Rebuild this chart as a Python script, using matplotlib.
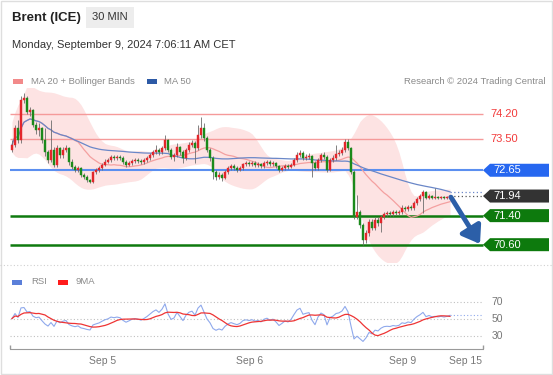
import matplotlib.pyplot as plt
import numpy as np
import pandas as pd
from matplotlib.patches import Polygon, Rectangle

plt.rcParams['font.family'] = ['Liberation Sans', 'DejaVu Sans']

W, H = 553, 375

# Brent 30 min candles, Sep 4 -> Sep 9
first_open = 73.21
closes = [
    73.35, 73.81, 73.48, 74.59, 74.64, 74.26, 74.31, 73.90, 73.76, 73.81,
    73.48, 73.15, 72.93, 73.21, 72.80, 73.26, 73.07, 73.21, 73.26, 72.88,
    72.74, 72.66, 72.71, 72.52, 72.46, 72.38, 72.33, 72.60, 72.66, 72.71,
    72.80, 72.88, 72.93, 73.02, 72.99, 73.02, 72.99, 72.88, 72.80, 72.85,
    72.91, 72.93, 72.91, 72.88, 72.93, 72.99, 73.07, 73.15, 73.21, 73.15,
    73.26, 73.48, 73.21, 73.02, 73.07, 73.29, 73.15, 72.99, 73.21, 73.35,
    73.40, 73.26, 73.62, 73.81, 73.54, 73.21, 72.99, 72.60, 72.46, 72.52,
    72.44, 72.60, 72.71, 72.77, 72.71, 72.66, 72.71, 72.82, 72.85, 72.82,
    72.85, 72.80, 72.82, 72.77, 72.85, 72.88, 72.82, 72.85, 72.77, 72.66,
    72.71, 72.77, 72.74, 72.80, 72.93, 73.07, 73.13, 72.99, 73.02, 73.04,
    72.85, 72.71, 72.93, 73.07, 73.02, 72.66, 72.93, 72.99, 73.10, 73.13,
    73.21, 73.43, 73.26, 72.60, 71.36, 71.50, 71.14, 70.73, 70.92, 71.23,
    71.06, 71.28, 71.20, 71.36, 71.45, 71.47, 71.45, 71.50, 71.47, 71.50,
    71.61, 71.58, 71.64, 71.61, 71.75, 71.86, 71.94, 72.05, 71.89, 71.94,
    71.89, 71.91, 71.89, 71.91, 71.89, 71.91, 71.94,
]
highs = [
    73.48, 73.90, 74.03, 74.70, 74.78, 74.70, 74.40, 74.35, 73.98, 73.95,
    73.85, 73.81, 73.20, 74.03, 73.30, 73.35, 73.30, 73.30, 73.35, 73.30,
    72.95, 72.80, 72.78, 72.75, 72.58, 72.52, 72.42, 72.64, 72.72, 72.76,
    72.86, 72.95, 73.00, 73.08, 73.07, 73.08, 73.06, 73.03, 72.92, 72.91,
    72.96, 72.98, 72.98, 72.95, 72.99, 73.05, 73.12, 73.21, 73.35, 73.26,
    73.32, 73.62, 73.52, 73.26, 73.12, 73.40, 73.33, 73.20, 73.26, 73.42,
    73.48, 73.45, 73.90, 74.12, 73.95, 73.60, 73.26, 73.04, 72.66, 72.60,
    72.58, 72.65, 72.76, 72.82, 72.82, 72.76, 72.76, 72.86, 72.90, 72.90,
    72.90, 72.90, 72.88, 72.86, 72.90, 72.93, 72.92, 72.90, 72.89, 72.80,
    72.76, 72.82, 72.82, 72.86, 72.98, 73.15, 73.20, 73.18, 73.10, 73.12,
    73.08, 72.90, 72.98, 73.12, 73.15, 73.06, 72.98, 73.07, 73.35, 73.20,
    73.30, 73.52, 73.50, 73.30, 72.65, 71.97, 71.55, 71.20, 71.00, 71.30,
    71.30, 71.35, 71.35, 71.42, 71.50, 71.53, 71.53, 71.55, 71.55, 71.56,
    71.68, 71.66, 71.70, 71.68, 71.80, 71.92, 72.00, 72.10, 72.08, 71.99,
    71.98, 72.16, 71.95, 71.95, 71.94, 71.95, 71.98,
]
lows = [
    73.15, 73.30, 73.40, 73.40, 74.50, 74.20, 74.15, 73.85, 73.65, 73.60,
    73.40, 73.05, 72.85, 72.88, 72.74, 72.75, 73.00, 73.00, 73.15, 72.80,
    72.68, 72.60, 72.60, 72.46, 72.40, 72.33, 72.30, 72.30, 72.55, 72.60,
    72.66, 72.76, 72.84, 72.88, 72.93, 72.94, 72.93, 72.82, 72.75, 72.76,
    72.80, 72.86, 72.86, 72.83, 72.83, 72.88, 72.94, 73.02, 73.10, 73.08,
    73.10, 73.20, 73.15, 72.96, 72.90, 73.02, 73.08, 72.85, 72.94, 73.15,
    73.30, 72.85, 73.20, 73.55, 73.45, 73.15, 72.90, 72.40, 72.38, 72.40,
    72.35, 72.40, 72.55, 72.66, 72.65, 72.60, 72.62, 72.66, 72.78, 72.77,
    72.77, 72.75, 72.75, 72.72, 72.72, 72.80, 72.77, 72.78, 72.72, 72.60,
    72.62, 72.66, 72.68, 72.70, 72.76, 72.88, 73.02, 72.94, 72.94, 72.96,
    72.46, 72.65, 72.66, 72.88, 72.96, 72.60, 72.62, 72.88, 72.94, 73.04,
    73.08, 73.15, 73.20, 72.55, 71.30, 71.30, 71.05, 70.59, 70.65, 70.85,
    71.00, 71.00, 71.12, 70.95, 71.30, 71.40, 71.40, 71.40, 71.42, 71.42,
    71.45, 71.52, 71.53, 71.55, 71.56, 71.70, 71.80, 71.47, 71.85, 71.85,
    71.85, 71.86, 71.85, 71.86, 71.86, 71.86, 71.88,
]

resistances = [74.20, 73.50]
pivot = 72.65
supports = [71.40, 70.60]
last_price = 71.94

date_labels = ["Sep 5", "Sep 6", "Sep 9", "Sep 15"]
date_pos = [30.3, 79.3, 130.3, 151.3]  # candle index of each label
rsi_levels = [70, 50, 30]

RED = "#e3262b"
GREEN = "#1b8a1b"
BLUE_MA = "#6a87c8"
PINK = "#fde3e3"


def px2i(px):
    # horizontal pixel -> candle index (candles every 3 px from x=12)
    return (px - 12) / 3.0


def fy(py):
    return 1 - py / H


fig = plt.figure(figsize=(W / 100, H / 100), dpi=100)

# ---------------- price panel ----------------
ax = fig.add_axes([0, fy(262), 1, (262 - 88) / H])
ax.set_xlim(px2i(0), px2i(W))
ax.set_ylim(70.123, 74.916)
ax.axis("off")

c = pd.Series(closes)
o = np.r_[first_open, np.array(closes[:-1])]
cl = np.array(closes)
x = np.arange(len(closes))

ma20 = c.rolling(20, min_periods=2).mean()
sd20 = c.rolling(20, min_periods=2).std(ddof=0)
upper = (ma20 + 2 * sd20).rolling(5, center=True, min_periods=1).mean()
lower = (ma20 - 2 * sd20).rolling(5, center=True, min_periods=1).mean()
ma50 = c.rolling(50, min_periods=1).mean()

ax.fill_between(x, lower, upper, color=PINK, lw=0, zorder=1)

x0, x1 = px2i(10), px2i(483)
for lv in resistances:
    ax.hlines(lv, x0, x1, color="#f59a9a", lw=1.0, zorder=2)
    ax.text(px2i(490), lv, f"{lv:.2f}", color="#f23a3a", fontsize=8,
            va="center", ha="left")
ax.hlines(pivot, x0, x1, color="#5b8ff0", lw=1.5, zorder=2)
for lv in supports:
    ax.hlines(lv, x0, x1, color="#0f7a0f", lw=1.8, zorder=2)

ax.plot(x[3:], ma20[3:], color="#f4a0a0", lw=0.9, zorder=3)
ax.plot(x, ma50, color=BLUE_MA, lw=0.9, zorder=3)
ax.hlines(ma50.iloc[-1], x[-1], x1, color=BLUE_MA, lw=0.9,
          linestyles=(0, (1, 2)), zorder=3)
ax.hlines(last_price, x[-1], x1, color="#555555", lw=0.9,
          linestyles=(0, (1, 2)), zorder=3)

# candles (red = up, green = down)
up = cl >= o
cols = np.where(up, RED, GREEN)
ax.vlines(x, lows, highs, color="#6d6d6d", lw=0.6, zorder=4)
body = np.maximum(np.abs(cl - o), 0.025)
bottom = (o + cl) / 2 - body / 2
ax.bar(x, body, bottom=bottom, width=0.72, color=cols, edgecolor=cols,
       lw=0.3, zorder=5)

# forecast arrow
ax.annotate("", xy=(px2i(480), 70.62), xytext=(x[-1] + 0.3, last_price - 0.03),
            arrowprops=dict(arrowstyle="-|>,head_length=1.0,head_width=0.7",
                            color="#2c5fa8", lw=3.5, shrinkA=0, shrinkB=0,
                            mutation_scale=10),
            zorder=6)


def tag(level, color, txt):
    h = 6.5 / 36.3
    pts = [(px2i(483), level), (px2i(490), level + h), (px2i(549), level + h),
           (px2i(549), level - h), (px2i(490), level - h)]
    ax.add_patch(Polygon(pts, closed=True, fc=color, ec="none", zorder=7,
                         clip_on=False))
    ax.text(px2i(493), level, txt, color="white", fontsize=8, va="center",
            ha="left", zorder=8)


tag(pivot, "#2667f0", f"{pivot:.2f}")
tag(last_price, "#333333", f"{last_price:.2f}")
for lv in supports:
    tag(lv, "#0d7a0d", f"{lv:.2f}")

# ---------------- RSI panel ----------------
rax = fig.add_axes([0, fy(349), 1, (349 - 288) / H])
rax.set_xlim(px2i(0), px2i(W))
rax.set_ylim(14.12, 85.9)
for s in ["top", "right", "left"]:
    rax.spines[s].set_visible(False)
rax.spines["bottom"].set_color("#9a9a9a")
rax.spines["bottom"].set_bounds(x0, x1)
rax.set_yticks([])
rax.set_xticks(date_pos)
rax.set_xticklabels(date_labels)
rax.tick_params(axis="x", length=0, pad=5, labelsize=7.5, labelcolor="#777777")
rax.vlines([x0, x1], 14.12, 19.0, color="#9a9a9a", lw=1)

# Wilder RSI(14); warm-up starts from a neutral average move
delta = c.diff().fillna(0)
seed = delta.abs().mean()
gain = pd.concat([pd.Series([seed]), delta.clip(lower=0)], ignore_index=True)
loss = pd.concat([pd.Series([seed]), -delta.clip(upper=0)], ignore_index=True)
avg_gain = gain.ewm(alpha=1 / 14, adjust=False).mean().iloc[1:].to_numpy()
avg_loss = loss.ewm(alpha=1 / 14, adjust=False).mean().iloc[1:].to_numpy()
rsi = pd.Series(100 - 100 / (1 + avg_gain / avg_loss))
rsi_ma = rsi.rolling(9, min_periods=1).mean()

for lv in rsi_levels:
    rax.hlines(lv, x0, x1, color="#c0c0c0", lw=0.8, linestyles=(0, (1, 2)))
    rax.text(px2i(497), lv, str(lv), color="#777777", fontsize=7.5,
             ha="center", va="center")
rax.plot(x, rsi, color="#8fa9ec", lw=0.8)
rax.plot(x, rsi_ma, color="#ee3434", lw=0.9)
rax.hlines(rsi.iloc[-1], x[-1], x1, color="#8fa9ec", lw=0.8,
           linestyles=(0, (1, 2)))

# ---------------- header / legends (pixel overlay) ----------------
deco = fig.add_axes([0, 0, 1, 1], facecolor="none")
deco.set_xlim(0, W)
deco.set_ylim(H, 0)
deco.axis("off")
deco.add_patch(Rectangle((0.5, 0.5), W - 1.5, H - 1.5, fc="none",
                         ec="#dedede", lw=1))
deco.text(12, 17.5, "Brent (ICE)", fontsize=9.5, fontweight="bold",
          color="#222222", va="center")
deco.add_patch(Rectangle((86, 7), 48, 21, fc="#ededed", ec="none"))
deco.text(110, 17.5, "30 MIN", fontsize=8, color="#333333",
          ha="center", va="center")
deco.text(12, 45, "Monday, September 9, 2024 7:06:11 AM CET", fontsize=8,
          color="#333333", va="center")

deco.add_patch(Rectangle((13, 78.5), 10, 5, fc="#f28a8a", ec="none"))
deco.text(31, 81, "MA 20 + Bollinger Bands", fontsize=6.8, color="#8a8a8a",
          va="center")
deco.add_patch(Rectangle((147, 78.5), 10, 5, fc="#2d5aa6", ec="none"))
deco.text(164, 81, "MA 50", fontsize=6.8, color="#8a8a8a", va="center")
deco.text(545, 81, "Research \u00a9 2024 Trading Central", fontsize=6.8,
          color="#8a8a8a", va="center", ha="right")

deco.hlines(265, 0, W, color="#d0d0d0", lw=0.8, linestyles=(0, (1, 2)))

deco.add_patch(Rectangle((12, 279.5), 10, 5, fc="#5b7fd9", ec="none"))
deco.text(31, 282, "RSI", fontsize=6.8, color="#8a8a8a", va="center")
deco.add_patch(Rectangle((58, 279.5), 10, 5, fc="#ff1c1c", ec="none"))
deco.text(76, 282, "9MA", fontsize=6.8, color="#8a8a8a", va="center")

fig.savefig("out.png", dpi=100)
